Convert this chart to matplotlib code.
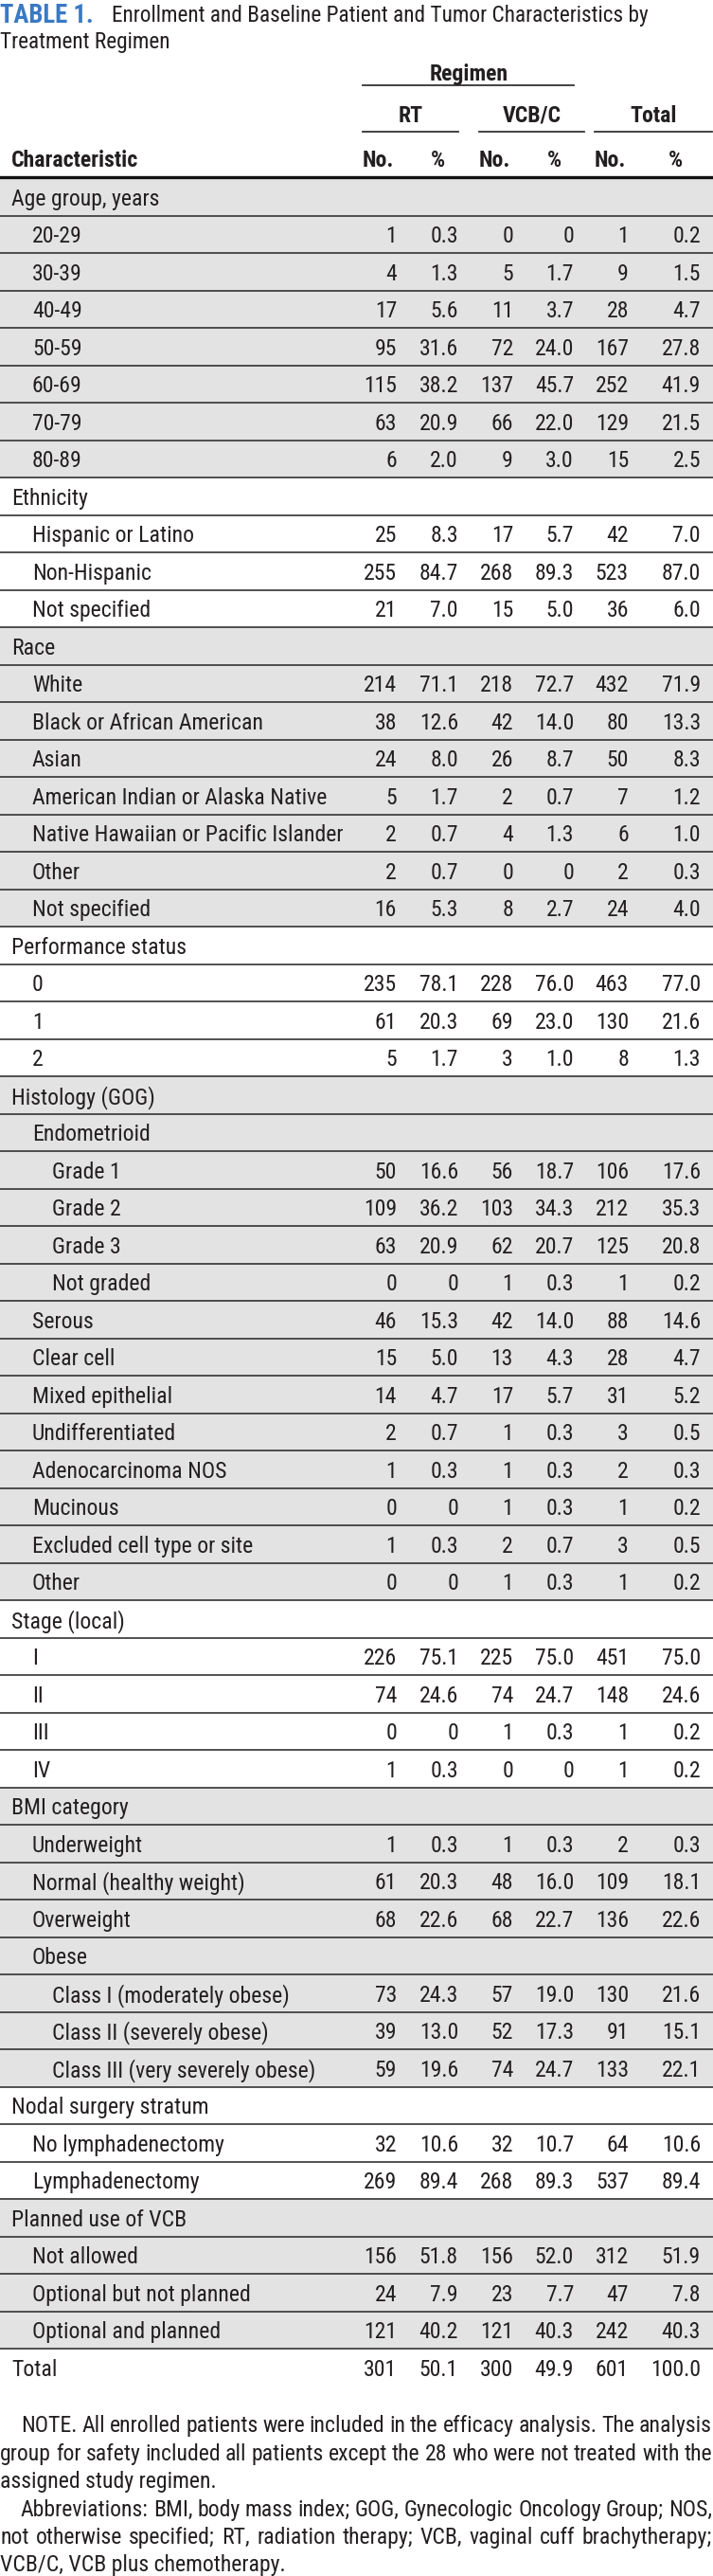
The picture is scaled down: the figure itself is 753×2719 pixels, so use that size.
import matplotlib.pyplot as plt
from matplotlib import font_manager
from matplotlib.patches import Rectangle

# pick a condensed sans if the machine has one, else fall back
installed = {f.name for f in font_manager.fontManager.ttflist}
candidates = ['Roboto Condensed', 'Archivo Narrow', 'PT Sans Narrow', 'Liberation Sans Narrow']
family = [c for c in candidates if c in installed][:1] + ['DejaVu Sans']
plt.rcParams['font.family'] = family

# table rows: label, indent level (0 = section heading)
labels = [
    "Age group, years", "20-29", "30-39", "40-49", "50-59", "60-69", "70-79", "80-89",
    "Ethnicity", "Hispanic or Latino", "Non-Hispanic", "Not specified",
    "Race", "White", "Black or African American", "Asian", "American Indian or Alaska Native",
    "Native Hawaiian or Pacific Islander", "Other", "Not specified",
    "Performance status", "0", "1", "2",
    "Histology (GOG)", "Endometrioid", "Grade 1", "Grade 2", "Grade 3", "Not graded",
    "Serous", "Clear cell", "Mixed epithelial", "Undifferentiated", "Adenocarcinoma NOS",
    "Mucinous", "Excluded cell type or site", "Other",
    "Stage (local)", "I", "II", "III", "IV",
    "BMI category", "Underweight", "Normal (healthy weight)", "Overweight", "Obese",
    "Class I (moderately obese)", "Class II (severely obese)", "Class III (very severely obese)",
    "Nodal surgery stratum", "No lymphadenectomy", "Lymphadenectomy",
    "Planned use of VCB", "Not allowed", "Optional but not planned", "Optional and planned",
    "Total",
]
levels = [0, 1, 1, 1, 1, 1, 1, 1,
          0, 1, 1, 1,
          0, 1, 1, 1, 1, 1, 1, 1,
          0, 1, 1, 1,
          0, 1, 2, 2, 2, 2, 1, 1, 1, 1, 1, 1, 1, 1,
          0, 1, 1, 1, 1,
          0, 1, 1, 1, 1, 2, 2, 2,
          0, 1, 1,
          0, 1, 1, 1,
          0]

N = None
rt_n = [N, 1, 4, 17, 95, 115, 63, 6, N, 25, 255, 21, N, 214, 38, 24, 5, 2, 2, 16, N, 235, 61, 5,
        N, N, 50, 109, 63, 0, 46, 15, 14, 2, 1, 0, 1, 0, N, 226, 74, 0, 1,
        N, 1, 61, 68, N, 73, 39, 59, N, 32, 269, N, 156, 24, 121, 301]
rt_pct = [N, 0.3, 1.3, 5.6, 31.6, 38.2, 20.9, 2.0, N, 8.3, 84.7, 7.0, N, 71.1, 12.6, 8.0, 1.7, 0.7, 0.7, 5.3,
          N, 78.1, 20.3, 1.7, N, N, 16.6, 36.2, 20.9, 0, 15.3, 5.0, 4.7, 0.7, 0.3, 0, 0.3, 0,
          N, 75.1, 24.6, 0, 0.3, N, 0.3, 20.3, 22.6, N, 24.3, 13.0, 19.6, N, 10.6, 89.4,
          N, 51.8, 7.9, 40.2, 50.1]
vcb_n = [N, 0, 5, 11, 72, 137, 66, 9, N, 17, 268, 15, N, 218, 42, 26, 2, 4, 0, 8, N, 228, 69, 3,
         N, N, 56, 103, 62, 1, 42, 13, 17, 1, 1, 1, 2, 1, N, 225, 74, 1, 0,
         N, 1, 48, 68, N, 57, 52, 74, N, 32, 268, N, 156, 23, 121, 300]
vcb_pct = [N, 0, 1.7, 3.7, 24.0, 45.7, 22.0, 3.0, N, 5.7, 89.3, 5.0, N, 72.7, 14.0, 8.7, 0.7, 1.3, 0, 2.7,
           N, 76.0, 23.0, 1.0, N, N, 18.7, 34.3, 20.7, 0.3, 14.0, 4.3, 5.7, 0.3, 0.3, 0.3, 0.7, 0.3,
           N, 75.0, 24.7, 0.3, 0, N, 0.3, 16.0, 22.7, N, 19.0, 17.3, 24.7, N, 10.7, 89.3,
           N, 52.0, 7.7, 40.3, 49.9]
tot_n = [N, 1, 9, 28, 167, 252, 129, 15, N, 42, 523, 36, N, 432, 80, 50, 7, 6, 2, 24, N, 463, 130, 8,
         N, N, 106, 212, 125, 1, 88, 28, 31, 3, 2, 1, 3, 1, N, 451, 148, 1, 1,
         N, 2, 109, 136, N, 130, 91, 133, N, 64, 537, N, 312, 47, 242, 601]
tot_pct = [N, 0.2, 1.5, 4.7, 27.8, 41.9, 21.5, 2.5, N, 7.0, 87.0, 6.0, N, 71.9, 13.3, 8.3, 1.2, 1.0, 0.3, 4.0,
           N, 77.0, 21.6, 1.3, N, N, 17.6, 35.3, 20.8, 0.2, 14.6, 4.7, 5.2, 0.5, 0.3, 0.2, 0.5, 0.2,
           N, 75.0, 24.6, 0.2, 0.2, N, 0.3, 18.1, 22.6, N, 21.6, 15.1, 22.1, N, 10.6, 89.4,
           N, 51.9, 7.8, 40.3, 100.0]

title_tag = "TABLE 1."
title_lines = ["Enrollment and Baseline Patient and Tumor Characteristics by", "Treatment Regimen"]
group_head = "Regimen"
arm_heads = ["RT", "VCB/C", "Total"]
note_lines = [
    "NOTE. All enrolled patients were included in the efficacy analysis. The analysis",
    "group for safety included all patients except the 28 who were not treated with the",
    "assigned study regimen.",
    "Abbreviations: BMI, body mass index; GOG, Gynecologic Oncology Group; NOS,",
    "not otherwise specified; RT, radiation therapy; VCB, vaginal cuff brachytherapy;",
    "VCB/C, VCB plus chemotherapy.",
]

W, H = 753, 2719
TXT = '#231f20'
GRAY = '#e3e3e4'
LINE = '#333333'

fig = plt.figure(figsize=(W / 100, H / 100), dpi=100)
ax = fig.add_axes([0, 0, 1, 1])
ax.set_xlim(0, W)
ax.set_ylim(H, 0)
ax.axis('off')
renderer = fig.canvas.get_renderer()


def width_of(t):
    return t.get_window_extent(renderer).width


def fit_size(s, target, **kw):
    # font size that makes string s about target px wide
    t = ax.text(0, 0, s, fontsize=10, **kw)
    w = width_of(t)
    t.remove()
    return 10 * target / w


def justify(y, line, x0, x1, **kw):
    words = line.split(' ')
    texts = [ax.text(0, y, w, **kw) for w in words]
    ws = [width_of(t) for t in texts]
    gap = max((x1 - x0 - sum(ws)) / (len(words) - 1), 2)
    x = x0
    for t, w in zip(texts, ws):
        t.set_x(x)
        x += w + gap


FS = fit_size("Class III (very severely obese)", 276)
TFS = fit_size(title_lines[0], 564)
TAGFS = min(fit_size(title_tag, 104, fontweight='bold'), TFS * 1.15)

# title
ax.text(0, 14, title_tag, color='#3a79c4', fontsize=TAGFS, fontweight='bold', va='center_baseline')
ax.text(118, 14, title_lines[0], color=TXT, fontsize=TFS, va='center_baseline')
ax.text(0, 42, title_lines[1], color=TXT, fontsize=TFS, va='center_baseline')

# column headers
no_right = [419, 542, 664]
pct_right = [484, 606, 740]
pct_head = [462, 585, 713]
spans = [(383, 484), (506, 617), (628, 752)]
hk = dict(color=TXT, fontsize=FS, fontweight='bold', va='center_baseline')
ax.text(495, 76, group_head, ha='center', **hk)
ax.plot([383, 606], [90, 90], color=LINE, lw=1.3)
for name, (a, b) in zip(arm_heads, spans):
    ax.text((a + b) / 2, 120, name, ha='center', **hk)
    ax.plot([a, b], [139, 139], color=LINE, lw=1.3)
ax.text(12, 167, "Characteristic", ha='left', **hk)
for xn, xp in zip(no_right, pct_head):
    ax.text(xn - 3, 167, "No.", ha='right', **hk)
    ax.text(xp, 167, "%", ha='center', **hk)

# body
top0, rh = 188.0, 39.5
indent = [12, 34, 55]
fmt_n = lambda v: '' if v is None else str(v)
fmt_p = lambda v: '' if v is None else ('0' if v == 0 else f"{v:.1f}")

shade = False
for i, lab in enumerate(labels):
    if levels[i] == 0:
        shade = not shade if i > 0 else True
    y0 = top0 + i * rh
    if shade and lab != "Total":
        ax.add_patch(Rectangle((0, y0), W, rh, color=GRAY, lw=0, zorder=0))
    yc = y0 + rh / 2
    tk = dict(color=TXT, fontsize=FS, va='center_baseline')
    ax.text(indent[levels[i]], yc, lab, ha='left', **tk)
    vals = [(rt_n[i], rt_pct[i]), (vcb_n[i], vcb_pct[i]), (tot_n[i], tot_pct[i])]
    for (n, p), xn, xp in zip(vals, no_right, pct_right):
        ax.text(xn, yc, fmt_n(n), ha='right', **tk)
        ax.text(xp, yc, fmt_p(p), ha='right', **tk)
    if i < len(labels) - 1:
        ax.plot([0, W], [y0 + rh, y0 + rh], color=LINE, lw=1.2, zorder=2)

ax.plot([0, W], [top0 - 1.5, top0 - 1.5], color='#111111', lw=2.4, zorder=3)

# footnotes
fk = dict(color=TXT, fontsize=FS, va='center_baseline')
fy = [2558, 2588, 2617, 2647, 2676, 2705]
justify(fy[0], note_lines[0], 22, 752, **fk)
justify(fy[1], note_lines[1], 0, 752, **fk)
ax.text(0, fy[2], note_lines[2], **fk)
justify(fy[3], note_lines[3], 22, 752, **fk)
justify(fy[4], note_lines[4], 0, 752, **fk)
ax.text(0, fy[5], note_lines[5], **fk)

fig.savefig('out.png', dpi=100, facecolor='white')
